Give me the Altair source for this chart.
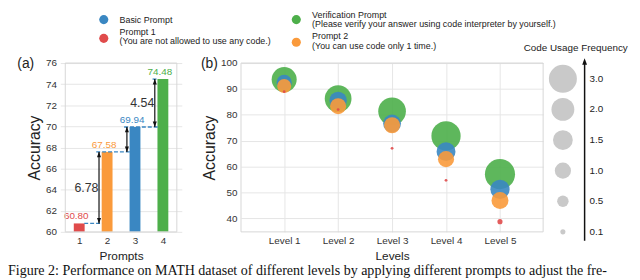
import altair as alt
import pandas as pd

# ---------------- data ----------------
# Panel (a): overall accuracy per prompt
prompt_ids = [1, 2, 3, 4]
prompt_names = ["Prompt 1", "Prompt 2", "Basic Prompt", "Verification Prompt"]
prompt_acc = [60.80, 67.58, 69.94, 74.48]

# Panel (b): accuracy and code-usage frequency per level
level_ids = [1, 2, 3, 4, 5]
acc_verification = [93.6, 86.2, 81.3, 71.8, 57.0]
acc_basic = [92.5, 85.5, 76.6, 65.7, 51.1]
acc_prompt2 = [91.1, 83.3, 75.9, 62.8, 46.8]
acc_prompt1 = [88.9, 82.0, 67.0, 54.6, 38.6]
freq_verification = [2.40, 2.74, 2.93, 3.27, 3.47]
freq_basic = [0.89, 1.17, 1.22, 1.37, 1.42]
freq_prompt2 = [0.75, 0.99, 0.99, 0.99, 1.10]
freq_prompt1 = [0.03, 0.03, 0.03, 0.03, 0.10]

# size legend
size_legend_values = [3.0, 2.0, 1.5, 1.0, 0.5, 0.1]
size_legend_labels = ["3.0", "2.0", "1.5", "1.0", "0.5", "0.1"]

series_names = ["Basic Prompt", "Prompt 1", "Verification Prompt", "Prompt 2"]
series_colors = ["#3A87C2", "#E04B4B", "#4DAF4A", "#FA9A3B"]

caption = ("Figure 2: Performance on MATH dataset of different levels by applying "
           "different prompts to adjust the fre-")

# ---------------- styles ----------------
FONT = "Liberation Sans"
DASH_BLUE = "#3A87C2"
INK = "#111111"
FRAME = "#d6d6d6"
BAR_W = 11
HALF = 0.18  # half bar width in x units
UP = "M0,-1L0.75,1L-0.75,1Z"
DOWN = "M0,1L0.75,-1L-0.75,-1Z"

COLOR = alt.Scale(domain=series_names, range=series_colors)
SIZE = alt.Scale(domain=[0, 3], range=[0, 804], zero=True)

XA = alt.Scale(domain=[0.5, 4.5], range=[0, 123], nice=False, zero=False)
YA = alt.Scale(domain=[60, 76], nice=False, zero=False)
XB = alt.Scale(domain=[0.2, 5.8], range=[183, 489], nice=False, zero=False)
YB = alt.Scale(domain=[34.65, 100], nice=False, zero=False)

common_axis = dict(ticks=False, domain=False, labelPadding=4, titleFontWeight="normal")
AXIS_XA = alt.Axis(values=prompt_ids, format="d", orient="bottom", title="Prompts",
                   grid=False, titlePadding=5, titleFontSize=12, **common_axis)
AXIS_YA = alt.Axis(values=list(range(60, 77, 2)), orient="left", title="Accuracy",
                   grid=True, titlePadding=3, titleFontSize=16, **common_axis)
AXIS_XB = alt.Axis(values=level_ids, labelExpr="'Level ' + datum.value", orient="bottom",
                   title="Levels", grid=True, titlePadding=5, titleFontSize=12, **common_axis)
AXIS_YB = alt.Axis(values=list(range(40, 101, 10)), orient="left", offset=-183,
                   title="Accuracy", grid=True, titlePadding=3, titleFontSize=16, **common_axis)


def xa(f):
    return alt.X(f, scale=XA, axis=AXIS_XA)


def ya(f):
    return alt.Y(f, scale=YA, axis=AXIS_YA)


one = pd.DataFrame({"k": [0]})

# ---------------- panel (a) ----------------
bars_df = pd.DataFrame({"pid": prompt_ids, "acc": prompt_acc, "name": prompt_names,
                        "label": [f"{v:.2f}" for v in prompt_acc]})

bars = alt.Chart(bars_df).mark_bar(size=BAR_W).encode(
    x=xa("pid:Q"),
    y=ya("acc:Q"),
    y2=alt.datum(60),
    color=alt.Color("name:N", scale=COLOR, legend=None),
)

value_labels = alt.Chart(bars_df).mark_text(
    baseline="bottom", dy=-2, dx=-3, fontSize=10, font=FONT
).encode(
    x=xa("pid:Q"),
    y=ya("acc:Q"),
    text="label:N",
    color=alt.Color("name:N", scale=COLOR, legend=None),
)

# difference arrows between consecutive bars
arrow_x = [prompt_ids[k + 1] - 0.29 for k in range(3)]
arrows_df = pd.DataFrame({"x": arrow_x, "lo": prompt_acc[:3], "hi": prompt_acc[1:]})

arrows = alt.Chart(arrows_df).mark_rule(color=INK, strokeWidth=1.2).encode(
    x=xa("x:Q"), y=ya("lo:Q"), y2="hi:Q",
)
heads_up = alt.Chart(arrows_df).mark_point(
    shape=UP, filled=True, size=30, color=INK, opacity=1, yOffset=2.7
).encode(x=xa("x:Q"), y=ya("hi:Q"))
heads_down = alt.Chart(arrows_df).mark_point(
    shape=DOWN, filled=True, size=30, color=INK, opacity=1, yOffset=-2.7
).encode(x=xa("x:Q"), y=ya("lo:Q"))

gap_rows = []
for k in (0, 2):
    lo, hi = prompt_acc[k], prompt_acc[k + 1]
    gap_rows.append({"x": arrow_x[k] - 0.45, "y": (lo + hi) / 2, "t": f"{hi - lo:.2f}"})
gap_df = pd.DataFrame(gap_rows)
gap_labels = alt.Chart(gap_df).mark_text(fontSize=12.5, color="#333", font=FONT).encode(
    x=xa("x:Q"), y=ya("y:Q"), text="t:N",
)

# dashed reference lines at bar tops
dash_df = pd.DataFrame({
    "y": prompt_acc,
    "x1": [prompt_ids[0] + HALF, arrow_x[0] - 0.1, arrow_x[1] - 0.1, arrow_x[2] - 0.08],
    "x2": [prompt_ids[1] - HALF, prompt_ids[2] - HALF, prompt_ids[3] - HALF, prompt_ids[3] - HALF],
})
dashes = alt.Chart(dash_df).mark_rule(color=DASH_BLUE, strokeDash=[4, 2], strokeWidth=1.3).encode(
    x=xa("x1:Q"), x2="x2:Q", y=ya("y:Q"),
)

frame_a = alt.Chart(one).mark_rect(fillOpacity=0, stroke=FRAME, strokeWidth=1).encode(
    x=alt.XDatum(0.5, scale=XA, axis=AXIS_XA), x2=alt.X2Datum(4.5),
    y=alt.YDatum(60, scale=YA, axis=AXIS_YA), y2=alt.Y2Datum(76),
)

panel_a = alt.layer(bars, dashes, arrows, heads_up, heads_down, value_labels, gap_labels, frame_a)

# ---------------- panel (b) ----------------
rows = []
for name, accs, freqs in [
    ("Verification Prompt", acc_verification, freq_verification),
    ("Basic Prompt", acc_basic, freq_basic),
    ("Prompt 2", acc_prompt2, freq_prompt2),
    ("Prompt 1", acc_prompt1, freq_prompt1),
]:
    for lv, a, f in zip(level_ids, accs, freqs):
        rows.append({"level": lv, "acc": a, "freq": f, "name": name})
bub_df = pd.DataFrame(rows)

bubbles = alt.Chart(bub_df).mark_circle(opacity=0.9).encode(
    x=alt.X("level:Q", scale=XB, axis=AXIS_XB),
    y=alt.Y("acc:Q", scale=YB, axis=AXIS_YB),
    size=alt.Size("freq:Q", scale=SIZE, legend=None),
    color=alt.Color("name:N", scale=COLOR, legend=None),
)
frame_b = alt.Chart(one).mark_rect(fillOpacity=0, stroke=FRAME, strokeWidth=1).encode(
    x=alt.XDatum(0.2, scale=XB, axis=AXIS_XB), x2=alt.X2Datum(5.8),
    y=alt.YDatum(34.65, scale=YB, axis=AXIS_YB), y2=alt.Y2Datum(100),
)
panel_b = alt.layer(bubbles, frame_b)

# ---------------- size legend ----------------
sl_df = pd.DataFrame({"freq": size_legend_values, "label": size_legend_labels})
SLY = alt.Scale(type="point", range=[16, 171], padding=0)
sl_circles = alt.Chart(sl_df).mark_circle(color="#c9c9c9", opacity=1).encode(
    x=alt.value(509),
    y=alt.Y("label:N", sort=size_legend_labels, scale=SLY, axis=None),
    size=alt.Size("freq:Q", scale=SIZE, legend=None),
)
sl_labels = alt.Chart(sl_df).mark_text(align="left", baseline="middle", fontSize=10,
                                       font=FONT, color="#222").encode(
    x=alt.value(536),
    y=alt.Y("label:N", sort=size_legend_labels, scale=SLY, axis=None),
    text="label:N",
)
size_legend = alt.layer(sl_circles, sl_labels)

sl_arrow = alt.Chart(one).mark_rule(color=INK, strokeWidth=1.5).encode(
    x=alt.value(531), y=alt.value(180), y2=alt.value(-1))
sl_head = alt.Chart(one).mark_point(shape=UP, filled=True, size=42, color=INK, opacity=1).encode(
    x=alt.value(531), y=alt.value(-1.5))
sl_title = alt.Chart(one).mark_text(fontSize=10, font=FONT, color="#222").encode(
    x=alt.value(522), y=alt.value(-15), text=alt.value("Code Usage Frequency"))

# ---------------- top legend & texts ----------------
legend_layers = []
legend_spec = [
    ("Basic Prompt", 44, -44, [("Basic Prompt", -44)]),
    ("Prompt 1", 44, -25, [("Prompt 1", -31), ("(You are not allowed to use any code.)", -22)]),
    ("Verification Prompt", 239, -44, [("Verification Prompt", -49),
                                       ("(Please verify your answer using code interpreter by yourself.)", -39)]),
    ("Prompt 2", 239, -21, [("Prompt 2", -27), ("(You can use code only 1 time.)", -17)]),
]
for name, cx, cy, lines in legend_spec:
    legend_layers.append(
        alt.Chart(pd.DataFrame({"name": [name]})).mark_circle(size=85, opacity=1).encode(
            x=alt.value(cx), y=alt.value(cy),
            color=alt.Color("name:N", scale=COLOR, legend=None)))
    for txt, ty in lines:
        legend_layers.append(
            alt.Chart(one).mark_text(align="left", baseline="middle", fontSize=9,
                                     font=FONT, color="#222").encode(
                x=alt.value(cx + 16), y=alt.value(ty), text=alt.value(txt)))

label_a = alt.Chart(one).mark_text(fontSize=14, font=FONT, color="#222").encode(
    x=alt.value(-35), y=alt.value(1), text=alt.value("(a)"))
label_b = alt.Chart(one).mark_text(fontSize=14, font=FONT, color="#222").encode(
    x=alt.value(151), y=alt.value(1), text=alt.value("(b)"))
cap = alt.Chart(one).mark_text(align="left", baseline="alphabetic", fontSize=14.2,
                               font="Liberation Serif", color="#111").encode(
    x=alt.value(-53), y=alt.value(214.6), text=alt.value(caption))

chart = alt.layer(
    panel_a, panel_b, size_legend, sl_arrow, sl_head, sl_title,
    label_a, label_b, cap, *legend_layers
).resolve_scale(
    x="independent", y="independent"
).resolve_axis(
    x="independent", y="independent"
).properties(
    width=489, height=171,
    padding={"left": 53, "top": 54, "right": 90, "bottom": 47},
    autosize=alt.AutoSizeParams(type="none"),
).configure_view(
    stroke=None
).configure_axis(
    labelFont=FONT, titleFont=FONT, labelFontSize=10, labelColor="#333",
    titleColor="#222", gridColor="#e6e6e6", gridWidth=1,
)

chart.save("out.html", embed_options={"renderer": "svg", "actions": False})
